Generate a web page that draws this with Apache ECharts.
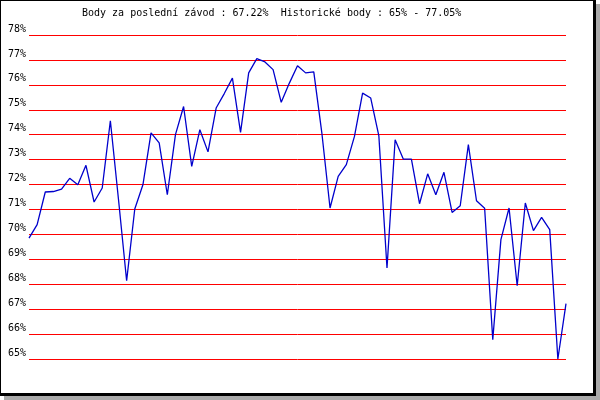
<!DOCTYPE html>
<html><head><meta charset="utf-8">
<script src="https://cdn.jsdelivr.net/npm/echarts@6/dist/echarts.min.js"></script>
<style>html,body{margin:0;padding:0;background:#fff}#c{width:600px;height:400px}</style>
</head><body><div id="c"></div>
<script>
const titleText = 'Body za poslední závod : 67.22%  Historické body : 65% - 77.05%';
const yMin = 65, yMax = 78, yStep = 1;
const points = [69.85,70.39,71.70,71.72,71.82,72.25,71.99,72.77,71.30,71.86,
74.56,71.40,68.14,71.02,71.99,74.07,73.67,71.59,74.00,75.13,
72.73,74.20,73.31,75.07,75.65,76.27,74.09,76.48,77.05,76.92,
76.61,75.30,76.07,76.77,76.48,76.52,74.05,71.06,72.33,72.80,
73.93,75.67,75.47,73.95,68.65,73.80,73.02,73.02,71.23,72.43,
71.59,72.49,70.88,71.15,73.60,71.35,71.05,65.77,69.79,71.06,
67.94,71.26,70.15,70.68,70.19,65.00,67.22];
const categories = points.map((_, i) => String(i + 1));

const chart = echarts.init(document.getElementById('c'), null, {renderer: 'canvas'});
chart.setOption({
  animation: false,
  backgroundColor: '#fff',
  graphic: [
    {type: 'rect', shape: {x: 4, y: 4, width: 596, height: 396}, style: {fill: '#aaaaaa'}, z: -10, silent: true},
    {type: 'rect', shape: {x: 0, y: 0, width: 596, height: 396}, style: {fill: '#000'}, z: -9, silent: true},
    {type: 'rect', shape: {x: 1, y: 1, width: 592, height: 392}, style: {fill: '#fff'}, z: -8, silent: true},
    {type: 'text', left: 82, top: 8, style: {text: titleText, fill: '#000', font: '10px "DejaVu Sans Mono"'}, z: 10}
  ],
  grid: {left: 29, right: 34, top: 35, bottom: 41, containLabel: false},
  xAxis: {type: 'category', data: categories, boundaryGap: false, show: false},
  yAxis: {
    type: 'value', min: yMin, max: yMax, interval: yStep,
    axisLine: {show: false}, axisTick: {show: false},
    axisLabel: {formatter: '{value}%', color: '#000', fontFamily: 'DejaVu Sans Mono', fontSize: 10, margin: 3, verticalAlign: 'bottom', lineHeight: 12},
    splitLine: {show: true, lineStyle: {color: '#ff0000', width: 1}}
  },
  series: [{
    type: 'line', data: points, symbol: 'none',
    lineStyle: {color: '#0000cc', width: 1.3}
  }]
});
</script></body></html>
